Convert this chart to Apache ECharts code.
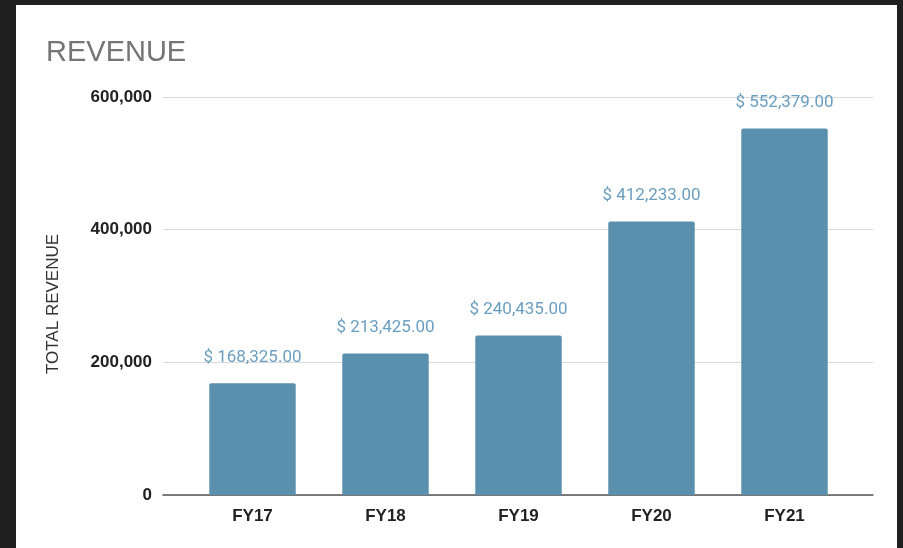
<!DOCTYPE html>
<html>
<head>
<meta charset="utf-8">
<script src="https://cdn.jsdelivr.net/npm/echarts@6/dist/echarts.min.js"></script>
<style>
  html, body { margin: 0; padding: 0; background: #1f1f1f; }
  #chart {
    position: absolute;
    left: 16px;
    top: 5px;
    width: 881px;
    height: 543px;
    background: #ffffff;
  }
</style>
</head>
<body>
<div id="chart"></div>
<script>
const categories = ['FY17', 'FY18', 'FY19', 'FY20', 'FY21']
const revenue = [168325, 213425, 240435, 412233, 552379]
const yTicks = [0, 200000, 400000, 600000]

const fmtMoney = (v) => '$ ' + v.toLocaleString('en-US', { minimumFractionDigits: 2, maximumFractionDigits: 2 })

const chart = echarts.init(document.getElementById('chart'))

chart.setOption({
  animation: false,
  title: {
    text: 'REVENUE',
    left: 25,
    top: 28,
    textStyle: {
      fontFamily: 'Liberation Sans',
      fontSize: 29,
      fontWeight: 'normal',
      color: '#757575'
    }
  },
  grid: [
    { left: 147, right: 24, top: 92, bottom: 53 },
    { left: 170, right: 46, top: 92, bottom: 53 }
  ],
  xAxis: [
    {
      // wide axis only for the baseline
      type: 'value',
      gridIndex: 0,
      min: 0,
      max: 1,
      axisLine: { show: true, lineStyle: { color: '#555', width: 1.5 } },
      axisTick: { show: false },
      axisLabel: { show: false },
      splitLine: { show: false }
    },
    {
      type: 'category',
      gridIndex: 1,
      data: categories,
      axisLine: { show: false },
      axisTick: { show: false },
      axisLabel: {
        margin: 13,
        fontFamily: 'Liberation Sans',
        fontSize: 17,
        fontWeight: 'bold',
        color: '#222'
      }
    }
  ],
  yAxis: [
    {
      type: 'value',
      gridIndex: 0,
      min: yTicks[0],
      max: yTicks[yTicks.length - 1],
      interval: yTicks[1] - yTicks[0],
      name: 'TOTAL REVENUE',
      nameLocation: 'middle',
      nameGap: 101,
      nameTextStyle: {
        fontFamily: 'Liberation Sans',
        fontSize: 17,
        color: '#333',
        padding: [0, 16, 0, 0]
      },
      axisLine: { show: false },
      axisTick: { show: false },
      axisLabel: {
        margin: 11,
        fontFamily: 'Liberation Sans',
        fontSize: 17,
        fontWeight: 'bold',
        color: '#222',
        formatter: (v) => v.toLocaleString('en-US')
      },
      splitLine: { lineStyle: { color: '#d9d9d9', width: 1 } }
    },
    {
      type: 'value',
      gridIndex: 1,
      min: yTicks[0],
      max: yTicks[yTicks.length - 1],
      show: false,
      splitLine: { show: false }
    }
  ],
  series: [
    {
      type: 'bar',
      xAxisIndex: 1,
      yAxisIndex: 1,
      data: revenue,
      barWidth: '65%',
      itemStyle: {
        color: '#5a8fad',
        borderRadius: [2, 2, 0, 0]
      },
      label: {
        show: true,
        position: 'top',
        distance: 17,
        fontFamily: 'Roboto',
        fontSize: 17,
        color: '#6a9ec0',
        formatter: (p) => fmtMoney(p.value)
      }
    }
  ]
})
</script>
</body>
</html>
